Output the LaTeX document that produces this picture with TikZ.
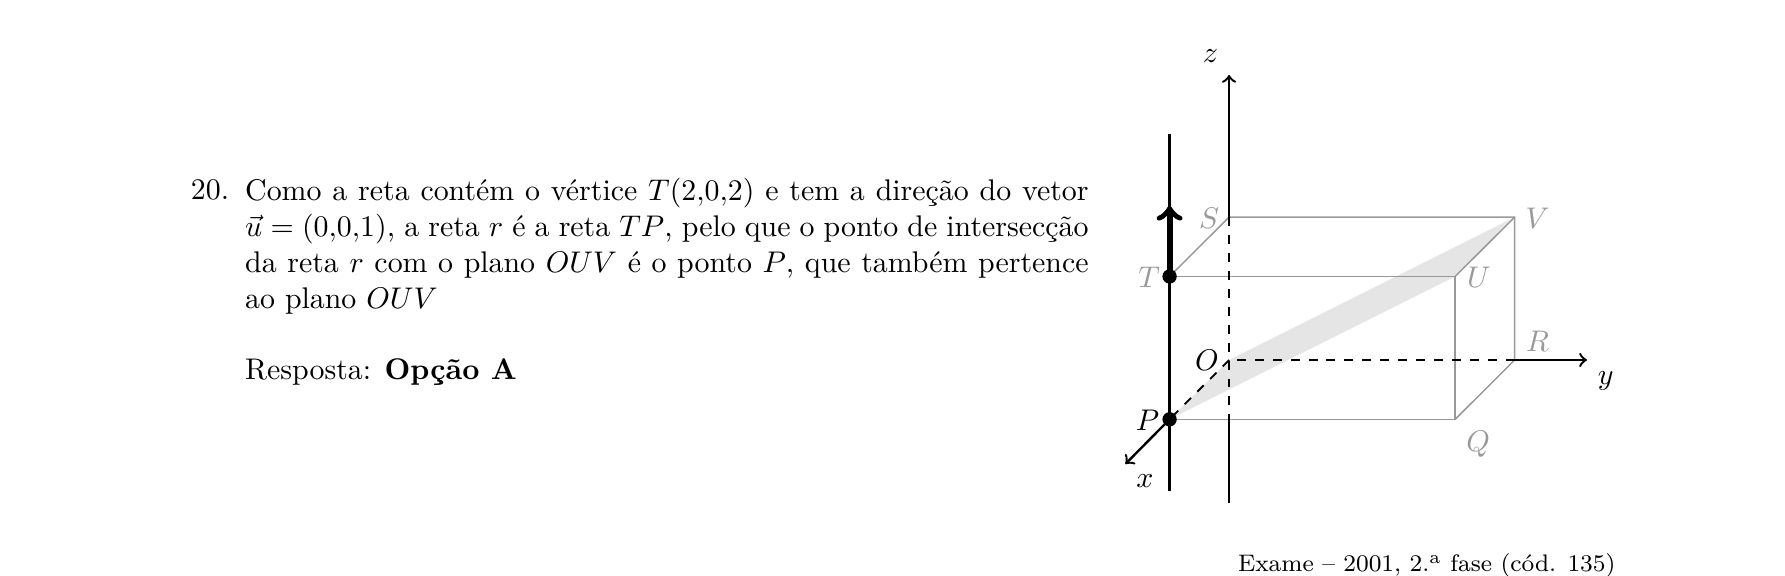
\documentclass[tikz,border=0pt]{standalone}
\usepackage{amsmath, amssymb}
\usetikzlibrary{calc}

\begin{document}
\begin{tikzpicture}[
	aresta/.style={draw=black!40, line width=0.5pt},
	eixo/.style={black, thick},
	oculto/.style={black, line width=0.6pt, dashed},
	rotulo/.style={black!40},
	ponto/.style={circle, fill=black, inner sep=0pt, minimum size=4.8pt},
	]
	\useasboundingbox (-14.46,-2.541) rectangle (6.54,4.235);

	% Vertices of the box
	\coordinate (O) at (0,0);
	\coordinate (P) at (-0.7,-0.698);
	\coordinate (Q) at (2.66,-0.698);
	\coordinate (R) at (3.36,0);
	\coordinate (S) at (0,1.68);
	\coordinate (T) at (-0.7,0.983);
	\coordinate (U) at (2.66,0.983);
	\coordinate (V) at (3.36,1.68);

	% Ends of the axes and of the line r
	\coordinate (zbase) at (0,-1.682);
	\coordinate (zcross) at (0,-0.698);
	\coordinate (ztop) at (0,3.353);
	\coordinate (xtip) at (-1.22,-1.224);
	\coordinate (ytip) at (4.21,0);
	\coordinate (rbase) at (-0.7,-1.54);
	\coordinate (rtop) at (-0.7,2.656);
	\coordinate (utip) at (-0.7,1.812);

	% Section of the box by the plane OUV
	\fill[black!10] (P) -- (O) -- (V) -- (U) -- cycle;

	% Edges of the box
	\draw[aresta] (P) -- (Q) -- (U) -- (T) -- cycle;
	\draw[aresta] (T) -- (S) -- (V) -- (R) -- (Q);
	\draw[aresta] (U) -- (V);

	% Axes, dashed inside the box
	\draw[eixo] (zbase) -- (zcross);
	\draw[oculto] (S) -- (zcross);
	\draw[eixo, ->] (S) -- (ztop);
	\draw[oculto] (O) -- (P);
	\draw[eixo, ->] (P) -- (xtip);
	\draw[oculto] (R) -- (O);
	\draw[eixo, ->] (R) -- (ytip);

	% Line r with its direction vector
	\draw[eixo] (rbase) -- (rtop);
	\draw[line width=2pt, ->] (T) -- (utip);
	\node[ponto] (ptT) at (T) {};
	\node[ponto] (ptP) at (P) {};

	% Labels
	\node (labz) at (-0.22,3.57) {$z$};
	\node (labx) at (-0.99,-1.424) {$x$};
	\node (laby) at (4.43,-0.245) {$y$};
	\node (labO) at (-0.26,-0.005) {$O$};
	\node (labP) at (-0.96,-0.706) {$P$};
	\node[rotulo] (labS) at (-0.235,1.672) {$S$};
	\node[rotulo] (labV) at (3.63,1.672) {$V$};
	\node[rotulo] (labT) at (-0.94,0.976) {$T$};
	\node[rotulo] (labU) at (2.94,0.976) {$U$};
	\node[rotulo] (labR) at (3.63,0.223) {$R$};
	\node[rotulo] (labQ) at (2.93,-0.986) {$Q$};

	% Text of the answer
	\node[anchor=base west, inner sep=0pt] (num) at (-12.22,1.884) {20.};
	\node[anchor=north west, inner sep=0pt, text width=282.3pt, align=justify] (resol) at (-11.582,2.144) {%
		Como a reta contém o vértice $T(2{,}0{,}2)$ e tem a direção do vetor
		$\vec{u}=(0{,}0{,}1)$, a reta $r$ é a reta $TP$, pelo que o ponto de intersecção
		da reta $r$ com o plano $OUV$ é o ponto $P$, que também pertence
		ao plano $OUV$\par
		\vspace{\baselineskip}
		Resposta: \textbf{Opção A}};
	\node[anchor=base east, inner sep=0pt, font=\footnotesize] (fonte) at (4.553,-2.492) {Exame -- 2001, 2.\textsuperscript{a} fase (cód. 135)};
\end{tikzpicture}
\end{document}
